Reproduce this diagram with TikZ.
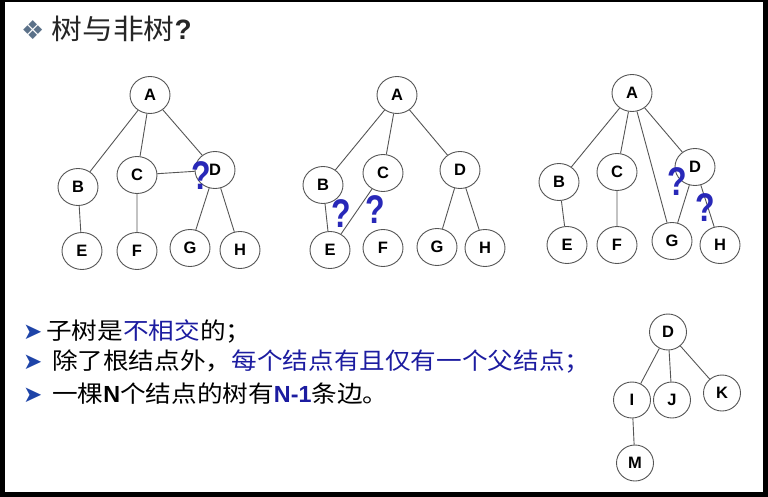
\documentclass[tikz,border=0pt]{standalone}
\usepackage{fontspec}
\setmainfont{Liberation Sans}
\newfontfamily\cjk[FakeStretch=1.1]{Noto Sans CJK SC}
\newfontfamily\symf{DejaVu Sans}
\newfontfamily\qfont[FakeStretch=0.8]{Liberation Sans Bold}
\usetikzlibrary{positioning,shapes.geometric}
\definecolor{NodeGray}{HTML}{555555}
\definecolor{QBlue}{HTML}{2828B8}
\definecolor{TextBlue}{HTML}{1C1CA0}
\definecolor{BulletBlue}{HTML}{1E44A8}
\definecolor{TitleGray}{HTML}{5B7189}
\newcommand\bul{{\symf\fontsize{23}{23}\selectfont\color{BulletBlue}➤}}
\newcommand\latb[1]{{\normalfont\bfseries #1}}

\begin{document}
\begin{tikzpicture}[x=1pt,y=-1pt,
  vtx/.style={ellipse,draw=NodeGray,line width=0.9pt,fill=white,minimum width=40pt,minimum height=37pt,inner sep=0pt,font=\fontsize{16.5}{16.5}\selectfont\bfseries},
  smallvtx/.style={vtx,minimum width=37pt,minimum height=36pt},
  edge/.style={draw=NodeGray,line width=0.9pt},
  qmark/.style={text=QBlue,inner sep=0pt,font=\fontsize{40}{40}\qfont},
  line/.style={anchor=west,inner sep=0pt,font=\fontsize{23.3}{23.3}\cjk}]
% frame
\fill[black] (0,0) rectangle (768,497);
\fill[white] (5,2) rectangle (763,492);
\useasboundingbox (0,0) rectangle (768,497);

% title
\node[anchor=west,inner sep=0pt,font=\fontsize{28}{28}\cjk,text=black!85] (title) at (21,29)
  {{\symf\fontsize{26}{26}\selectfont\color{TitleGray}❖}\ 树与非树\latb{?}};

% tree 1
\node[vtx] (A1) at (150,95) {A};
\node[vtx] (B1) at (78,187) {B};
\node[vtx] (C1) at (137,175) {C};
\node[vtx] (D1) at (215,170) {D};
\node[vtx] (E1) at (82,251) {E};
\node[vtx] (F1) at (137,251) {F};
\node[vtx] (G1) at (190,248) {G};
\node[vtx] (H1) at (240,250) {H};
\draw[edge] (A1) -- (B1) (A1) -- (C1) (A1) -- (D1) (B1) -- (E1)
  (C1) -- (F1) (C1) -- (D1) (D1) -- (G1) (D1) -- (H1);
\node[qmark] (q1) at (201,176) {?};

% tree 2
\node[vtx] (A2) at (397,95) {A};
\node[vtx] (B2) at (323,185) {B};
\node[vtx] (C2) at (383,173) {C};
\node[vtx] (D2) at (460,170) {D};
\node[vtx] (E2) at (330,250) {E};
\node[vtx] (F2) at (383,248) {F};
\node[vtx] (G2) at (437,247) {G};
\node[vtx] (H2) at (485,248) {H};
\draw[edge] (A2) -- (B2) (A2) -- (C2) (A2) -- (D2) (B2) -- (E2)
  (C2) -- (E2) (D2) -- (G2) (D2) -- (H2);
\node[qmark] (q2) at (341,214) {?};
\node[qmark] (q3) at (375,210) {?};

% tree 3
\node[vtx] (A3) at (632,93) {A};
\node[vtx] (B3) at (559,182) {B};
\node[vtx] (C3) at (617,172) {C};
\node[vtx] (D3) at (695,167) {D};
\node[vtx] (E3) at (567,245) {E};
\node[vtx] (F3) at (617,245) {F};
\node[vtx] (G3) at (672,241) {G};
\node[vtx] (H3) at (720,245) {H};
\draw[edge] (A3) -- (B3) (A3) -- (C3) (A3) -- (G3) (A3) -- (D3)
  (B3) -- (E3) (C3) -- (F3) (D3) -- (G3) (D3) -- (H3);
\node[qmark] (q4) at (677,182) {?};
\node[qmark] (q5) at (705,208) {?};

% subtree
\node[smallvtx] (D4) at (668,332) {D};
\node[smallvtx] (I4) at (632,400) {I};
\node[smallvtx] (J4) at (672,400) {J};
\node[smallvtx] (K4) at (722,393) {K};
\node[smallvtx] (M4) at (635,463) {M};
\draw[edge] (D4) -- (I4) (D4) -- (J4) (D4) -- (K4) (I4) -- (M4);

% properties
\node[line] (p1) at (23,331) {\bul\,子树是\textcolor{TextBlue}{不相交}的；};
\node[line] (p2) at (23,362) {\bul\ \,除了根结点外，\textcolor{TextBlue}{每个结点有且仅有一个父结点；}};
\node[line] (p3) at (23,394) {\bul\ \,一棵\latb{N}个结点的树有\textcolor{TextBlue}{\latb{N-1}}条边。};
\end{tikzpicture}
\end{document}
